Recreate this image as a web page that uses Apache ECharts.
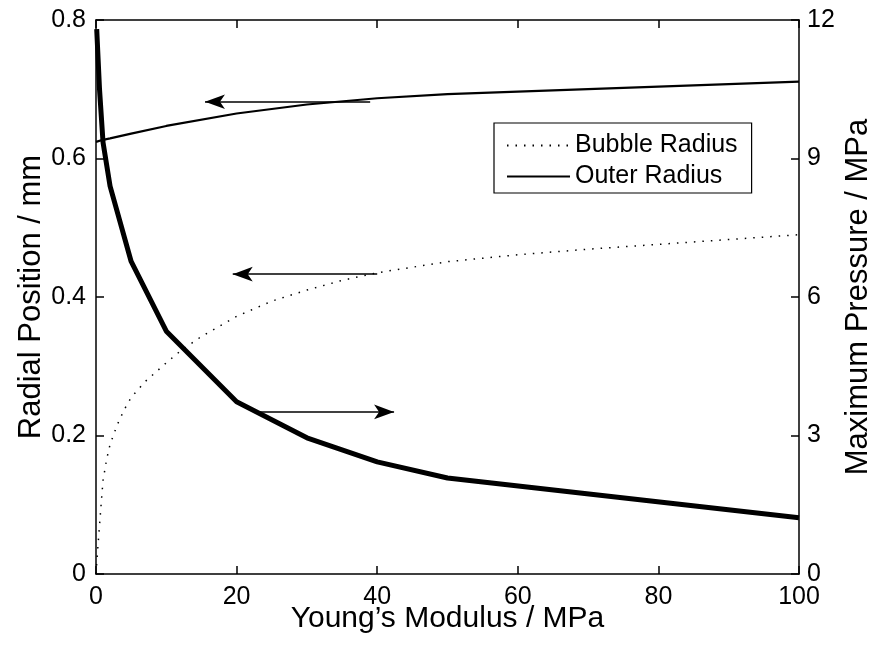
<!DOCTYPE html>
<html>
<head>
<meta charset="utf-8">
<script src="https://cdn.jsdelivr.net/npm/echarts@6/dist/echarts.min.js"></script>
<style>
html,body{margin:0;padding:0;background:#fff;overflow:hidden;}
#chart{width:871px;height:645px;}
</style>
</head>
<body>
<div id="chart"></div>
<script>
// ---- data ----
const bubbleX = [0, 0.2, 0.5, 0.8, 1, 1.5, 2, 3, 4, 5, 7, 10, 12, 15, 20, 25, 30, 35, 40, 50, 60, 70, 80, 90, 100];
const bubbleY = [0, 0.03, 0.07, 0.11, 0.135, 0.165, 0.187, 0.215, 0.237, 0.255, 0.278, 0.305, 0.322, 0.343, 0.372, 0.394, 0.41, 0.424, 0.435, 0.451, 0.461, 0.469, 0.476, 0.483, 0.49];
const outerX = [0, 1, 2, 5, 10, 20, 30, 40, 50, 100];
const outerY = [0.624, 0.627, 0.629, 0.636, 0.647, 0.665, 0.678, 0.687, 0.693, 0.711];
const pressureX = [0.1, 0.5, 1, 2, 5, 10, 20, 30, 40, 50, 100];
const pressureY = [11.8, 10.5, 9.35, 8.4, 6.77, 5.26, 3.73, 2.95, 2.43, 2.08, 1.22];
// arrows: [tailX, tipX, y]
const arrowOuter = [39, 15.5, 0.682];
const arrowBubble = [40, 19.45, 0.433];
const arrowPressure = [23, 42.4, 3.51];

const FONT = 'Liberation Sans';
const zip = (xs, ys) => xs.map((x, i) => [x, ys[i]]);
const arrowLine = a => ({
  silent: true,
  symbol: ['none', 'arrow'],
  symbolSize: [11, 20],
  label: {show: false},
  lineStyle: {color: '#000', width: 1.5, type: 'solid'},
  emphasis: {disabled: true},
  animation: false,
  data: [[{coord: [a[0], a[2]]}, {coord: [a[1], a[2]]}]]
});

const chart = echarts.init(document.getElementById('chart'), null, {renderer: 'canvas'});
const axisLine = () => ({show: true, onZero: false, lineStyle: {color: '#000', width: 1.5}});
const tick = () => ({show: true, inside: true, length: 8, lineStyle: {color: '#000', width: 1.5}});
const lbl = m => ({margin: m, color: '#000', fontSize: 25, fontFamily: FONT});
const nameStyleX = {color: '#000', fontSize: 30, fontFamily: FONT};
const nameStyleY = {color: '#000', fontSize: 31, fontFamily: FONT};

chart.setOption({
  animation: false,
  backgroundColor: '#fff',
  grid: {left: 96, right: 72, top: 20, bottom: 71, containLabel: false, outerBoundsMode: 'none'},
  legend: {
    orient: 'vertical',
    left: 494, top: 123,
    padding: [10, 14, 4, 12],
    itemWidth: 63, itemHeight: 23, itemGap: 6,
    borderColor: '#000', borderWidth: 1.2, backgroundColor: '#fff',
    itemStyle: {color: 'rgba(0,0,0,0)', borderWidth: 0, opacity: 0},
    textStyle: {color: '#000', fontSize: 25, fontFamily: FONT},
    data: ['Bubble Radius', 'Outer Radius']
  },
  xAxis: [{
    type: 'value', min: 0, max: 100, interval: 20, position: 'bottom',
    axisLine: axisLine(), axisTick: tick(), splitLine: {show: false},
    axisLabel: lbl(11),
    name: 'Young’s Modulus / MPa', nameLocation: 'middle', nameGap: 30, nameMoveOverlap: false,
    nameTextStyle: nameStyleX
  }, {
    type: 'value', min: 0, max: 100, interval: 20, position: 'top',
    axisLine: axisLine(), axisTick: tick(), splitLine: {show: false}, axisLabel: {show: false}
  }],
  yAxis: [{
    type: 'value', min: 0, max: 0.8, interval: 0.2, position: 'left',
    axisLine: axisLine(), axisTick: tick(), splitLine: {show: false},
    axisLabel: lbl(10),
    name: 'Radial Position / mm', nameLocation: 'middle', nameGap: 49, nameRotate: 90, nameMoveOverlap: false,
    nameTextStyle: nameStyleY
  }, {
    type: 'value', min: 0, max: 12, interval: 3, position: 'right',
    axisLine: axisLine(), axisTick: tick(), splitLine: {show: false},
    axisLabel: lbl(8),
    name: 'Maximum Pressure / MPa', nameLocation: 'middle', nameGap: 44, nameRotate: 90, nameMoveOverlap: false,
    nameTextStyle: nameStyleY
  }],
  series: [{
    name: 'Bubble Radius', type: 'line', xAxisIndex: 0, yAxisIndex: 0,
    symbol: 'none', smooth: false,
    lineStyle: {color: '#000', width: 1.5, type: [1.5, 7]},
    itemStyle: {color: '#000'},
    data: zip(bubbleX, bubbleY),
    markLine: arrowLine(arrowBubble)
  }, {
    name: 'Outer Radius', type: 'line', xAxisIndex: 0, yAxisIndex: 0,
    symbol: 'none',
    lineStyle: {color: '#000', width: 2.2},
    itemStyle: {color: '#000'},
    data: zip(outerX, outerY),
    markLine: arrowLine(arrowOuter)
  }, {
    name: 'Maximum Pressure', type: 'line', xAxisIndex: 0, yAxisIndex: 1,
    symbol: 'none',
    lineStyle: {color: '#000', width: 5},
    itemStyle: {color: '#000'},
    data: zip(pressureX, pressureY),
    markLine: arrowLine(arrowPressure)
  }]
});
</script>
</body>
</html>
